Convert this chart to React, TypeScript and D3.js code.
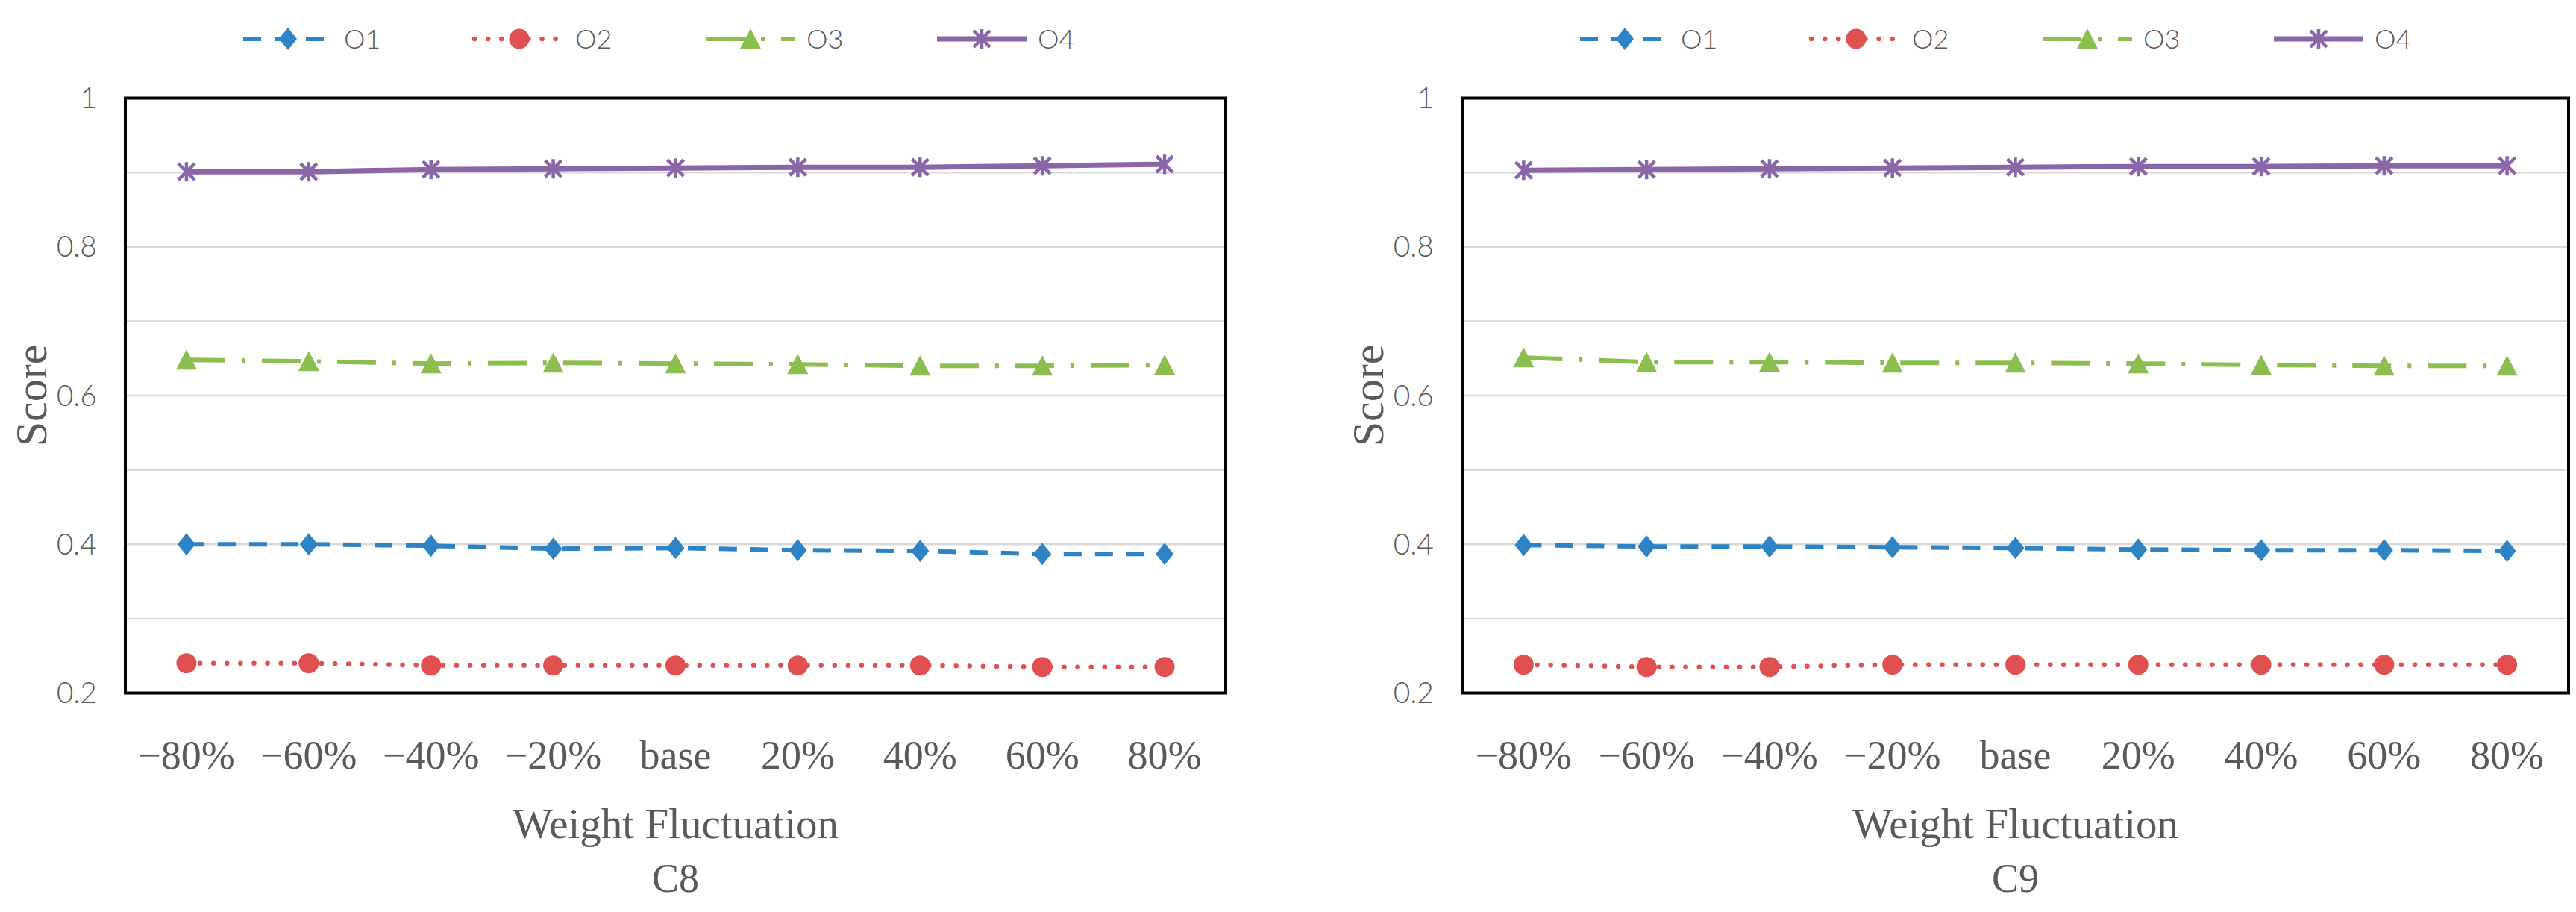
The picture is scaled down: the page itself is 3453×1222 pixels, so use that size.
import * as d3 from "d3";

const width = 3453;
const height = 1222;

const categories = ["−80%", "−60%", "−40%", "−20%", "base", "20%", "40%", "60%", "80%"];
const seriesNames = ["O1", "O2", "O3", "O4"];

// C8 panel
const c8O1 = [0.4, 0.4, 0.398, 0.394, 0.395, 0.392, 0.391, 0.387, 0.387];
const c8O2 = [0.24, 0.24, 0.237, 0.237, 0.237, 0.237, 0.237, 0.235, 0.235];
const c8O3 = [0.648, 0.646, 0.643, 0.644, 0.643, 0.642, 0.64, 0.64, 0.641];
const c8O4 = [0.901, 0.901, 0.904, 0.905, 0.906, 0.907, 0.907, 0.909, 0.911];

// C9 panel
const c9O1 = [0.399, 0.397, 0.397, 0.396, 0.395, 0.393, 0.392, 0.392, 0.391];
const c9O2 = [0.238, 0.235, 0.235, 0.238, 0.238, 0.238, 0.238, 0.238, 0.238];
const c9O3 = [0.651, 0.645, 0.645, 0.644, 0.644, 0.643, 0.641, 0.64, 0.64];
const c9O4 = [0.903, 0.904, 0.905, 0.906, 0.907, 0.908, 0.908, 0.909, 0.909];

const gridTicks = [0.3, 0.4, 0.5, 0.6, 0.7, 0.8, 0.9];
const labelTicks = [0.2, 0.4, 0.6, 0.8, 1];

const panels = [
  { label: "C8", x0: 168, x1: 1643, series: [c8O1, c8O2, c8O3, c8O4] },
  { label: "C9", x0: 1960, x1: 3443, series: [c9O1, c9O2, c9O3, c9O4] },
];

const plotTop = 131.5;
const plotBottom = 928.5;
const textColor = "#595959";
const serif = "'Liberation Serif', 'Times New Roman', serif";
const sans = "Lato, 'Open Sans', sans-serif";

const styles = [
  { color: "#2E83C4", dash: "24,18", width: 6, cap: "butt", marker: "diamond" },
  { color: "#E05050", dash: "0.1,18", width: 6.5, cap: "round", marker: "circle" },
  { color: "#8BBE4F", dash: "52,22,5,22", width: 6, cap: "butt", marker: "triangle" },
  { color: "#8A65A8", dash: "", width: 7, cap: "butt", marker: "star" },
];

// marker shapes centred on 0,0
const markerPath = (kind: string) => {
  if (kind === "diamond") return "M0,-15L12,0L0,15L-12,0Z";
  if (kind === "circle") return d3.symbol().type(d3.symbolCircle).size(Math.PI * 13.5 * 13.5)() as string;
  if (kind === "triangle") return "M0,-14L14,13L-14,13Z";
  return "M-11,-11L11,11M-11,11L11,-11M0,-13L0,13";
};

const Marker = ({ kind, color, x, y }: { kind: string; color: string; x: number; y: number }) =>
  kind === "star" ? (
    <path d={markerPath(kind)} transform={`translate(${x},${y})`} fill="none" stroke={color} strokeWidth={4.5} />
  ) : (
    <path d={markerPath(kind)} transform={`translate(${x},${y})`} fill={color} />
  );

const Panel = ({ panel }: { panel: (typeof panels)[number] }) => {
  const xScale = d3.scalePoint<string>().domain(categories).range([panel.x0, panel.x1]).padding(0.5);
  const yScale = d3.scaleLinear().domain([0.2, 1]).range([plotBottom, plotTop]);
  const fmt = d3.format("~g");
  const midX = (panel.x0 + panel.x1) / 2;
  const midY = (plotTop + plotBottom) / 2;

  const line = d3
    .line<number>()
    .x((_, i) => xScale(categories[i]) as number)
    .y((d) => yScale(d));

  const legendStart = panel.x0 + 158;

  return (
    <g>
      {/* legend */}
      {seriesNames.map((name, i) => {
        const s = styles[i];
        const lx = legendStart + i * 310;
        return (
          <g key={name}>
            <line
              x1={lx}
              x2={lx + 120}
              y1={52}
              y2={52}
              stroke={s.color}
              strokeWidth={s.width}
              strokeDasharray={s.dash || undefined}
              strokeLinecap={s.cap as any}
            />
            <Marker kind={s.marker} color={s.color} x={lx + 60} y={52} />
            <text x={lx + 135} y={52} dy="0.35em" fontFamily={sans} fontWeight={300} fontSize={36} fill={textColor}>
              {name}
            </text>
          </g>
        );
      })}

      {/* gridlines */}
      {gridTicks.map((t) => (
        <line key={t} x1={panel.x0} x2={panel.x1} y1={yScale(t)} y2={yScale(t)} stroke="#d9d9d9" strokeWidth={2.5} />
      ))}

      {/* y labels */}
      {labelTicks.map((t) => (
        <text
          key={t}
          x={panel.x0 - 38}
          y={yScale(t)}
          dy="0.35em"
          textAnchor="end"
          fontFamily={sans}
          fontWeight={300}
          fontSize={39}
          fill={textColor}
        >
          {fmt(t)}
        </text>
      ))}

      {/* series */}
      {panel.series.map((values, i) => {
        const s = styles[i];
        return (
          <g key={i}>
            <path
              d={line(values) ?? undefined}
              fill="none"
              stroke={s.color}
              strokeWidth={s.width}
              strokeDasharray={s.dash || undefined}
              strokeLinecap={s.cap as any}
            />
            {values.map((v, j) => (
              <Marker key={j} kind={s.marker} color={s.color} x={xScale(categories[j]) as number} y={yScale(v)} />
            ))}
          </g>
        );
      })}

      {/* frame */}
      <rect
        x={panel.x0}
        y={plotTop}
        width={panel.x1 - panel.x0}
        height={plotBottom - plotTop}
        fill="none"
        stroke="#000"
        strokeWidth={4}
      />

      {/* x labels */}
      {categories.map((c) => (
        <text key={c} x={xScale(c)} y={1030} textAnchor="middle" fontFamily={serif} fontSize={54} fill={textColor}>
          {c}
        </text>
      ))}

      <text x={midX} y={1123} textAnchor="middle" fontFamily={serif} fontSize={57} fill={textColor}>
        Weight Fluctuation
      </text>
      <text x={midX} y={1195} textAnchor="middle" fontFamily={serif} fontSize={54} fill={textColor}>
        {panel.label}
      </text>
      <text
        transform={`translate(${panel.x0 - 106},${midY}) rotate(-90)`}
        textAnchor="middle"
        fontFamily={serif}
        fontSize={60}
        fill={textColor}
      >
        Score
      </text>
    </g>
  );
};

const App = () => (
  <svg
    width={width}
    height={height}
    style={{ position: "absolute", left: 0, top: 0, background: "#fff" }}
  >
    {panels.map((p) => (
      <Panel key={p.label} panel={p} />
    ))}
  </svg>
);

export default App;
